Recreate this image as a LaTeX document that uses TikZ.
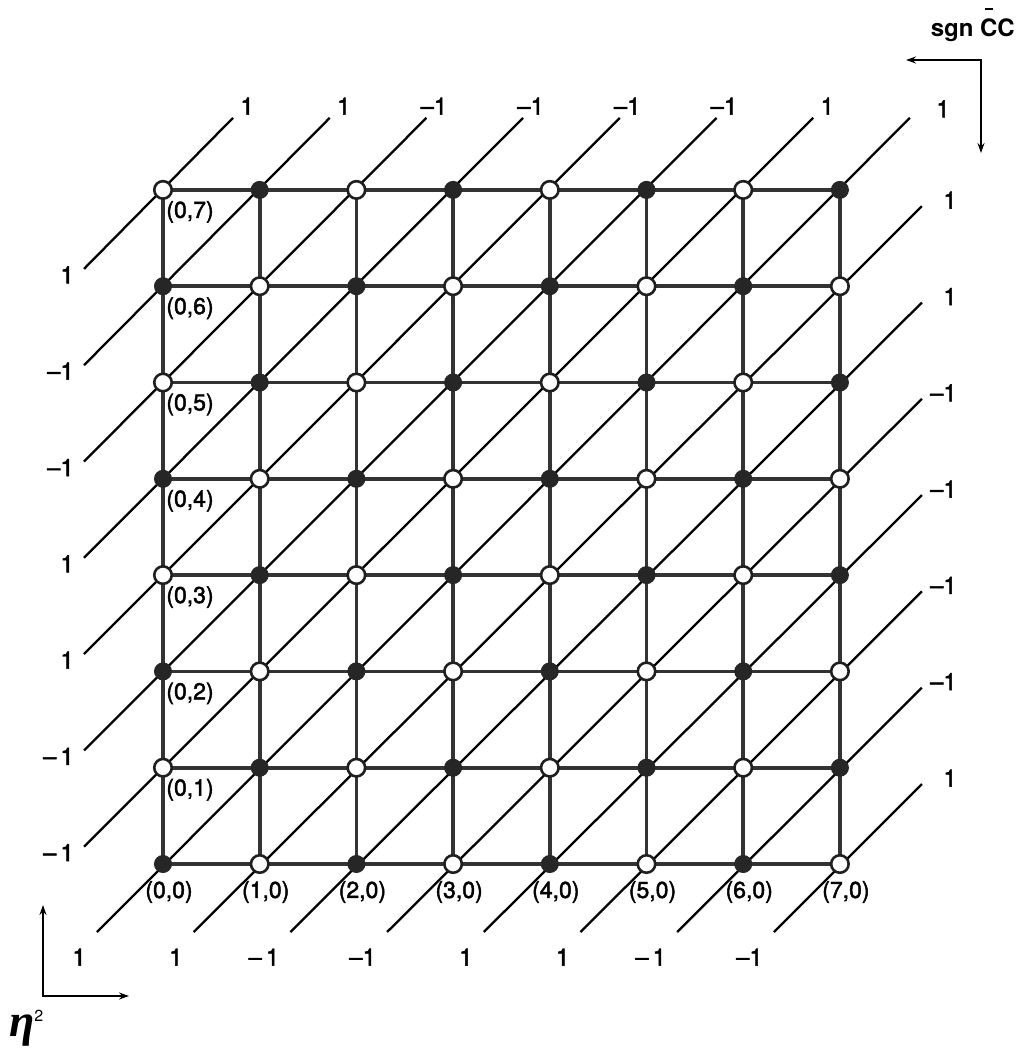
\documentclass[tikz,border=0pt]{standalone}
\usepackage{fontspec}
\setmainfont{TeX Gyre Heros}
\newfontfamily\labfont{TeX Gyre Heros}[FakeBold=2,Ligatures=TeX]
\newfontfamily\etafont{Liberation Serif}
\usetikzlibrary{calc,arrows.meta,backgrounds}
\newcommand{\etasymb}{{\etafont\bfseries\itshape η}}
\newcommand{\smalltwo}{\raisebox{15pt}{\fontsize{16}{16}\selectfont 2}}
\newcommand{\barC}{\leavevmode\hbox{\ooalign{C\cr\hidewidth\rule[1.12em]{0.34em}{0.085em}\hidewidth\cr}}}
\begin{document}
\begin{tikzpicture}[x=1pt,y=-1pt,
  gridline/.style={line width=3.6pt, draw=black!80},
  diag/.style={line width=2.3pt, draw=black},
  fillnode/.style={circle, fill=black!85, draw=black!85, line width=1pt, minimum size=17pt, inner sep=0pt},
  opennode/.style={circle, fill=white, draw=black!88, line width=2.6pt, minimum size=17.5pt, inner sep=0pt},
  numlab/.style={font=\labfont\fontsize{24}{24}\selectfont, inner sep=0pt},
  coordlab/.style={font=\labfont\fontsize{23}{23}\selectfont, inner sep=0pt},
  etalab/.style={font=\fontsize{46}{46}\selectfont, inner sep=0pt, anchor=base west},
  sgnlab/.style={font=\bfseries\fontsize{24}{24}\selectfont, inner sep=0pt, anchor=base east},
  axisarrow/.style={line width=2pt, {Stealth[length=10pt,width=7pt]}-{Stealth[length=10pt,width=7pt]}}
]
\useasboundingbox (0,0) rectangle (1018,1049);

% lattice nodes
\foreach \i in {0,...,7}{
  \foreach \j in {0,...,7}{
    \pgfmathtruncatemacro\pty{mod(\i+\j,2)}
    \ifnum\pty=0
      \node[fillnode] (n-\i-\j) at ({163+96.7*\i},{864-96.3*\j}) {};
    \else
      \node[opennode] (n-\i-\j) at ({163+96.7*\i},{864-96.3*\j}) {};
    \fi
  }
}

% free ends of the diagonals
\foreach \i in {0,...,7}{
  \coordinate (t\i) at ($(n-\i-7)+(70,-72)$);
  \coordinate (b\i) at ($(n-\i-0)+(-66,68)$);
}
\foreach \j in {1,...,7}{
  \coordinate (l\j) at ($(n-0-\j)+(-79,79)$);
}
\foreach \j in {0,...,6}{
  \coordinate (r\j) at ($(n-7-\j)+(82,-80)$);
}

\begin{scope}[on background layer]
  \foreach \j in {0,...,7}{
    \foreach \i [evaluate=\i as \k using int(\i+1)] in {0,...,6}{
      \draw[gridline] (n-\i-\j.center) -- (n-\k-\j.center);
      \draw[gridline] (n-\j-\i.center) -- (n-\j-\k.center);
    }
  }
  \foreach \j [evaluate=\j as \k using int(7-\j)] in {1,...,7}{
    \draw[diag] (l\j) -- (t\k);
  }
  \draw[diag] (b0) -- (t7);
  \foreach \i [evaluate=\i as \k using int(7-\i)] in {1,...,7}{
    \draw[diag] (b\i) -- (r\k);
  }
\end{scope}

% labels at the diagonal ends
\foreach \i/\v in {0/1,1/1,2/–1,3/–1,4/–1,5/–1,6/1}{
  \node[numlab, anchor=south east] (tl\i) at ($(t\i)+(21,-3)$) {\v};
}
\node[numlab, anchor=east] (tl7) at ($(t7)+(40,-9)$) {1};
\foreach \j/\v in {6/1,5/1,4/–1,3/–1,2/–1,1/–1,0/1}{
  \node[numlab, anchor=east] (rl\j) at ($(r\j)+(35,-6)$) {\v};
}
\foreach \j/\v in {7/1,6/–1,5/–1,4/1,3/1,2/{–\,1},1/{–\,1}}{
  \node[numlab, anchor=east] (ll\j) at ($(l\j)+(-10,6)$) {\v};
}
\foreach \i/\v in {0/1,1/1,2/{–\,1},3/–1,4/1,5/1,6/{–\,1},7/–1}{
  \node[numlab, anchor=east] (bl\i) at ($(b\i)+(-11,25)$) {\v};
}

% lattice coordinates
\foreach \j in {1,...,7}{
  \node[coordlab] (c0\j) at ($(n-0-\j)+(27,22)$) {(0,\j)};
}
\foreach \i in {0,...,7}{
  \node[coordlab] (c\i0) at ($(n-\i-0)+(6,28)$) {(\i,0)};
}

% eta^2 axes
\coordinate (etaO) at (43,996);
\coordinate (etaU) at (43,905);
\coordinate (etaR) at (129,996);
\draw[axisarrow] (etaU) -- (etaO) -- (etaR);
\node[etalab] (etalabel) at (9,1036) {\etasymb\smalltwo};

% sgn CC axes
\coordinate (sO) at (981,60);
\coordinate (sL) at (906,60);
\coordinate (sD) at (981,153);
\draw[axisarrow] (sL) -- (sO) -- (sD);
\node[sgnlab] (sgnlabel) at (1015,37) {sgn \barC C};
\end{tikzpicture}
\end{document}
